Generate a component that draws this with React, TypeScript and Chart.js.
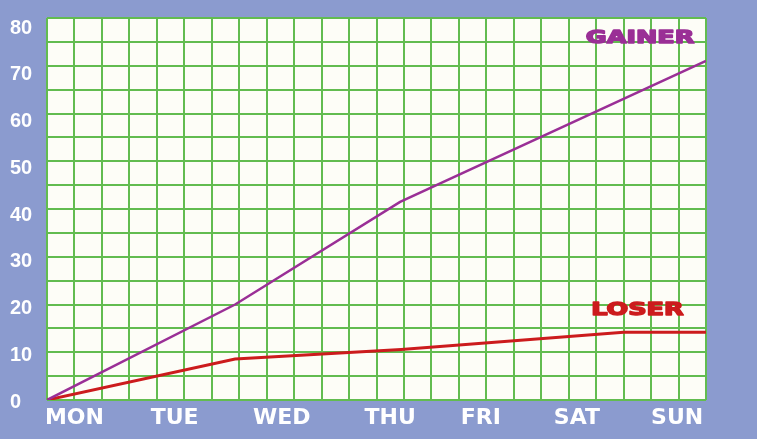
import React, { useEffect, useRef } from "react";
import { Chart, registerables } from "chart.js";

Chart.register(...registerables);

// x is measured in grid columns (0..24); days sit at these column positions
const dayLabels = ["MON", "TUE", "WED", "THU", "FRI", "SAT", "SUN"];
const dayPositions = [1.0, 4.65, 8.55, 12.5, 15.8, 19.3, 22.95];

const gainerX = [0, 6.85, 12.86, 24];
const gainerY = [0, 20, 41.5, 71];

const loserX = [0, 6.85, 12.9, 21, 24];
const loserY = [0, 8.6, 10.6, 14.2, 14.2];

const seriesNames = ["GAINER", "LOSER"];
const seriesLabelX = [21.6, 21.5];
const seriesLabelY = [75.6, 18.7];

const yTickValues = [0, 10, 20, 30, 40, 50, 60, 70, 80];

const BG = "#8b9bcf";
const GRID = "#62bc50";
const GAINER_COLOR = "#9a2f96";
const LOSER_COLOR = "#cc1b1d";

export default function App() {
  const ref = useRef<HTMLCanvasElement | null>(null);

  useEffect(() => {
    document.body.style.margin = "0";
    const canvas = ref.current;
    if (!canvas) return;

    const areaBg = {
      id: "areaBg",
      beforeDraw(chart: any) {
        const { ctx, chartArea } = chart;
        ctx.save();
        ctx.fillStyle = "#fdfdf7";
        ctx.fillRect(chartArea.left, chartArea.top, chartArea.right - chartArea.left, chartArea.bottom - chartArea.top);
        ctx.restore();
      },
    };

    const seriesLabels = {
      id: "seriesLabels",
      afterDatasetsDraw(chart: any) {
        const { ctx, scales } = chart;
        const colors = [GAINER_COLOR, LOSER_COLOR];
        seriesNames.forEach((name, i) => {
          const px = scales.x.getPixelForValue(seriesLabelX[i]);
          const py = scales.y.getPixelForValue(seriesLabelY[i]);
          ctx.save();
          ctx.translate(px, py);
          ctx.scale(1.5, 1);
          ctx.font = "bold 17px 'DejaVu Sans'";
          ctx.fillStyle = colors[i];
          ctx.strokeStyle = colors[i];
          ctx.lineWidth = 1.4;
          ctx.lineJoin = "round";
          ctx.textAlign = "center";
          ctx.textBaseline = "middle";
          ctx.strokeText(name, 0, 0);
          ctx.fillText(name, 0, 0);
          ctx.restore();
        });
      },
    };

    const chart = new Chart(canvas, {
      type: "line",
      data: {
        datasets: [
          {
            label: seriesNames[0],
            data: gainerX.map((x, i) => ({ x, y: gainerY[i] })),
            borderColor: GAINER_COLOR,
            borderWidth: 2.5,
            pointRadius: 0,
            tension: 0,
            xAxisID: "x",
            yAxisID: "y",
          },
          {
            label: seriesNames[1],
            data: loserX.map((x, i) => ({ x, y: loserY[i] })),
            borderColor: LOSER_COLOR,
            borderWidth: 3,
            pointRadius: 0,
            tension: 0,
            xAxisID: "x",
            yAxisID: "y",
          },
        ],
      },
      options: {
        responsive: false,
        animation: false,
        devicePixelRatio: 1,
        layout: { padding: { top: 18, right: 51, left: 10, bottom: 0 } },
        plugins: { legend: { display: false }, tooltip: { enabled: false } },
        scales: {
          x: {
            type: "linear",
            position: "bottom",
            min: 0,
            max: 24,
            ticks: { display: false, stepSize: 1 },
            afterBuildTicks: (scale: any) => {
              const t = [];
              for (let v = 0; v <= 24; v++) t.push({ value: v });
              scale.ticks = t;
            },
            grid: { color: GRID, lineWidth: 2, drawTicks: false },
            border: { display: false },
            afterFit: (scale: any) => {
              scale.height = 0;
            },
          },
          x2: {
            type: "linear",
            position: "bottom",
            min: 0,
            max: 24,
            afterBuildTicks: (scale: any) => {
              scale.ticks = dayPositions.map((v) => ({ value: v }));
            },
            ticks: {
              autoSkip: false,
              maxRotation: 0,
              padding: 5,
              color: "#ffffff",
              font: { family: "'DejaVu Sans'", weight: "bold", size: 22 },
              callback: (value: any) => {
                const idx = dayPositions.indexOf(Number(value));
                return idx >= 0 ? dayLabels[idx] : "";
              },
            },
            grid: { display: false, drawTicks: false },
            border: { display: false },
            afterFit: (scale: any) => {
              scale.height = 39;
            },
          },
          y: {
            type: "linear",
            position: "left",
            min: 0,
            max: 80,
            afterBuildTicks: (scale: any) => {
              const t = [];
              for (let v = 0; v <= 80; v += 5) t.push({ value: v });
              scale.ticks = t;
            },
            ticks: { display: false },
            grid: { color: GRID, lineWidth: 2, drawTicks: false },
            border: { display: false },
            afterFit: (scale: any) => {
              scale.width = 0;
            },
          },
          yLabels: {
            type: "linear",
            position: "left",
            min: 0.43,
            max: 82.14,
            afterBuildTicks: (scale: any) => {
              scale.ticks = yTickValues.map((v) => ({ value: v }));
            },
            ticks: {
              autoSkip: false,
              crossAlign: "far",
              color: "#ffffff",
              font: { family: "'Liberation Sans'", weight: "bold", size: 20 },
              callback: (value: any) => String(value),
            },
            grid: { display: false, drawTicks: false },
            border: { display: false },
            afterFit: (scale: any) => {
              scale.width = 37;
            },
          },
        },
      },
      plugins: [areaBg, seriesLabels],
    } as any);

    return () => chart.destroy();
  }, []);

  return (
    <div style={{ width: 757, height: 439, background: BG }}>
      <canvas ref={ref} width={757} height={439} style={{ display: "block" }} />
    </div>
  );
}
